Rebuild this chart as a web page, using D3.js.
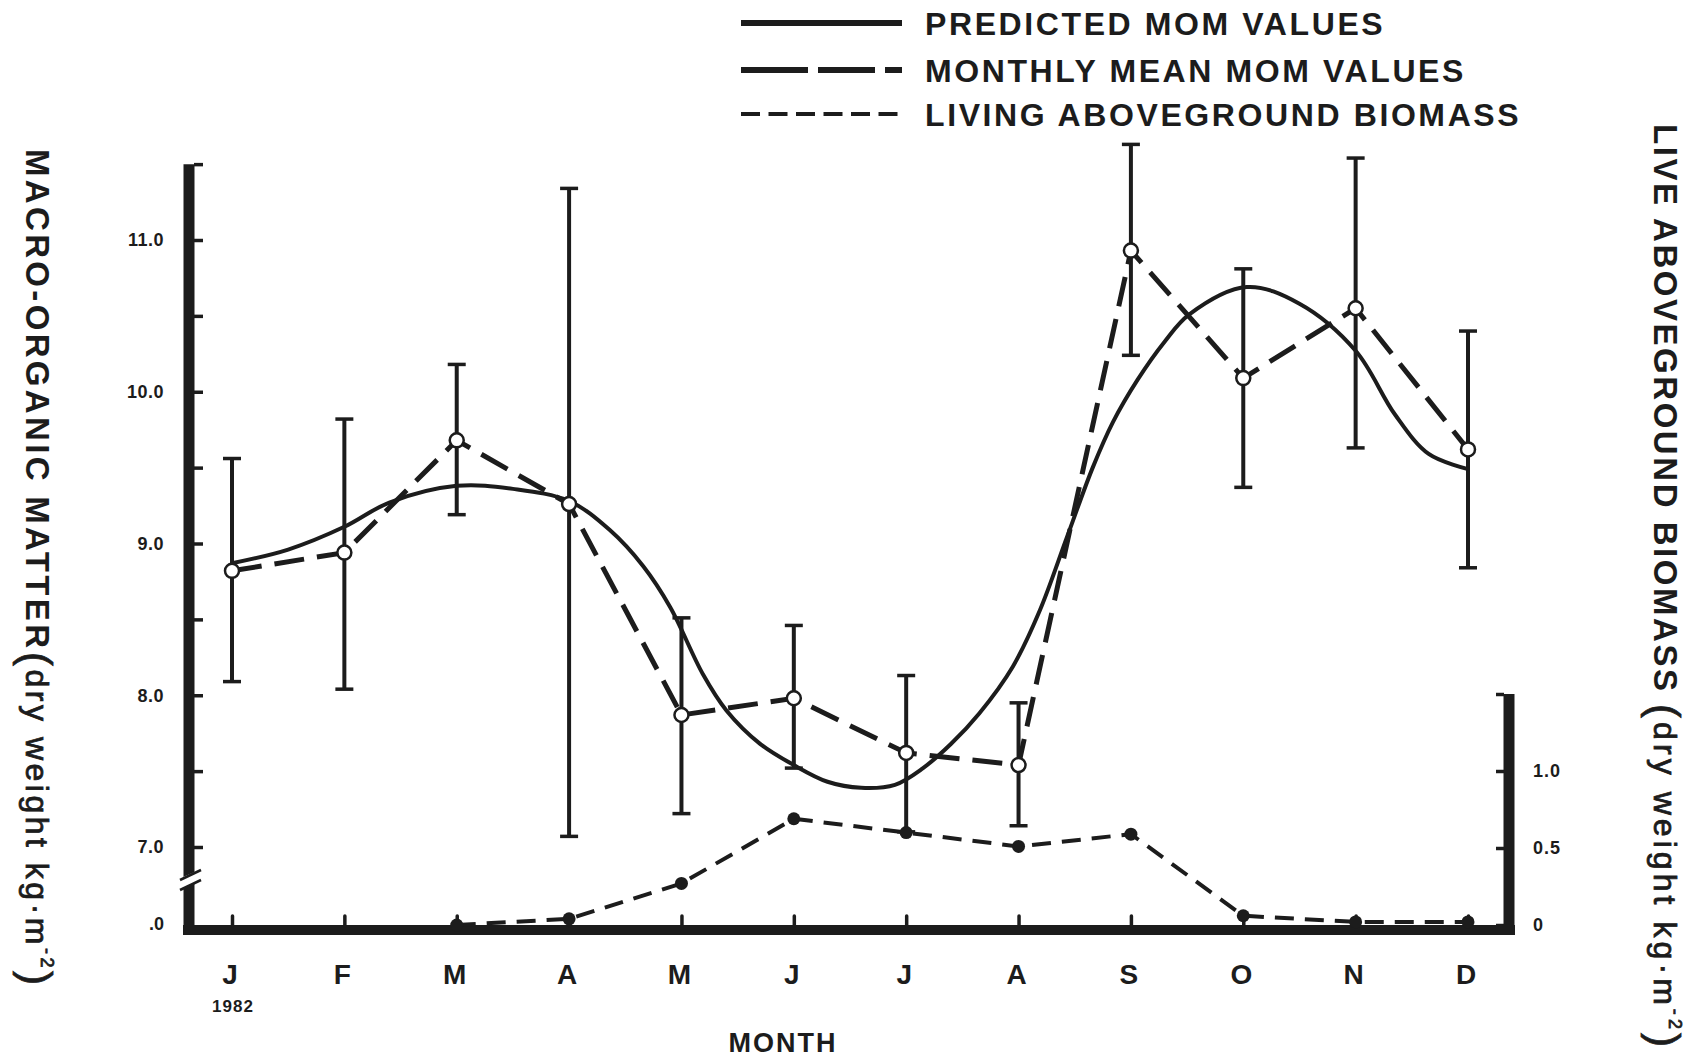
<!DOCTYPE html>
<html><head><meta charset="utf-8">
<script src="https://cdn.jsdelivr.net/npm/d3@7"></script>
<style>html,body{margin:0;padding:0;background:#fff;} svg{display:block;}</style>
</head><body>
<svg id="chart" width="1693" height="1057"></svg>
<script>
// ---------- data ----------
const months = ["J","F","M","A","M","J","J","A","S","O","N","D"];
const monthlyMean = [8.82, 8.94, 9.68, 9.26, 7.87, 7.98, 7.62, 7.54, 10.93, 10.09, 10.55, 9.62];
const errorHigh   = [9.56, 9.82, 10.18, 11.34, 8.51, 8.46, 8.13, 7.95, 11.63, 10.81, 11.54, 10.40];
const errorLow    = [8.09, 8.04, 9.19, 7.07, 7.22, 7.52, 7.10, 7.14, 10.24, 9.37, 9.63, 8.84];
const predictedMonth = [0, 0.5, 1, 1.4, 2, 2.5, 3, 3.36, 3.66, 3.9, 4.19, 4.4, 4.7, 5.0, 5.3, 5.6, 5.9, 6.15, 6.4, 6.65, 6.95, 7.19, 7.43, 7.66, 7.84, 8.06, 8.3, 8.52, 9.03, 9.5, 10, 10.35, 10.65, 11];
const predictedValue = [8.87, 8.96, 9.11, 9.27, 9.38, 9.36, 9.28, 9.09, 8.85, 8.58, 8.14, 7.90, 7.68, 7.54, 7.43, 7.39, 7.41, 7.52, 7.68, 7.88, 8.19, 8.56, 9.04, 9.50, 9.80, 10.08, 10.33, 10.51, 10.69, 10.58, 10.27, 9.85, 9.59, 9.49];
const biomass = [null, null, 0.0, 0.04, 0.27, 0.69, 0.60, 0.51, 0.59, 0.06, 0.02, 0.02];
const leftTickValues = [7, 7.5, 8, 8.5, 9, 9.5, 10, 10.5, 11, 11.5];
const leftTickLabels = ["7.0", "", "8.0", "", "9.0", "", "10.0", "", "11.0", ""];
const rightTickValues = [0, 0.5, 1.0, 1.5];
const rightTickLabels = ["0", "0.5", "1.0", ""];
const legendLabels = ["PREDICTED MOM VALUES", "MONTHLY MEAN MOM VALUES", "LIVING ABOVEGROUND BIOMASS"];

// ---------- setup ----------
const ink = "#1c1c1c";
const font = "'Liberation Sans', Arial, Helvetica, sans-serif";
const svg = d3.select("#chart").style("font-family", font);
svg.append("rect").attr("width",1693).attr("height",1057).attr("fill","#fff");

const x  = d3.scaleLinear().domain([0, 11]).range([232, 1468]);
const yL = d3.scaleLinear().domain([7, 11]).range([847, 240]);
const yR = d3.scaleLinear().domain([0, 1]).range([925, 771]);

const axisY = 930, leftX = 189, rightX = 1509;

// ---------- axes ----------
svg.append("line").attr("x1",183).attr("x2",1515).attr("y1",axisY).attr("y2",axisY)
  .attr("stroke",ink).attr("stroke-width",10);
const gx = svg.append("g").attr("transform",`translate(0,${axisY-4})`)
  .call(d3.axisBottom(x).tickValues(d3.range(months.length)).tickSize(-10).tickFormat(""));
gx.select(".domain").remove();
gx.selectAll(".tick line").attr("stroke",ink).attr("stroke-width",3.5).attr("stroke-linecap","round");

svg.selectAll("text.mlab").data(months).join("text").attr("class","mlab")
  .attr("x",(d,i)=>x(i)-2).attr("y",984).attr("text-anchor","middle")
  .attr("font-size",28).attr("font-weight",700).attr("fill",ink).text(d=>d);
svg.append("text").attr("x",x(0)+1).attr("y",1012).attr("text-anchor","middle")
  .attr("font-size",17).attr("font-weight",700).attr("letter-spacing",1).attr("fill",ink).text("1982");
svg.append("text").attr("x",783).attr("y",1052).attr("text-anchor","middle")
  .attr("font-size",27).attr("font-weight",700).attr("letter-spacing",2).attr("fill",ink).text("MONTH");

// left axis
svg.append("line").attr("x1",leftX).attr("x2",leftX).attr("y1",yL(11.5)).attr("y2",935)
  .attr("stroke",ink).attr("stroke-width",11);
const gl = svg.append("g").attr("transform",`translate(${leftX+5},0)`)
  .call(d3.axisLeft(yL).tickValues(leftTickValues).tickSize(-9).tickPadding(30)
    .tickFormat((d,i)=>leftTickLabels[i]));
gl.select(".domain").remove();
gl.selectAll(".tick line").attr("stroke",ink).attr("stroke-width",3.5);
gl.selectAll(".tick text").attr("font-size",18).attr("font-weight",700).attr("fill",ink)
  .attr("font-family",font).attr("letter-spacing",0.5);
// axis break
svg.append("polygon").attr("points","176,880 204,868 204,879 176,891").attr("fill","#fff");
svg.append("line").attr("x1",180).attr("y1",880).attr("x2",201).attr("y2",870).attr("stroke",ink).attr("stroke-width",2.5);
svg.append("line").attr("x1",180).attr("y1",890).attr("x2",201).attr("y2",880).attr("stroke",ink).attr("stroke-width",2.5);
svg.append("text").attr("x",164).attr("y",930).attr("text-anchor","end")
  .attr("font-size",18).attr("font-weight",700).attr("fill",ink).text(".0");

// right axis
svg.append("line").attr("x1",rightX).attr("x2",rightX).attr("y1",yR(1.5)).attr("y2",935)
  .attr("stroke",ink).attr("stroke-width",11);
const gr = svg.append("g").attr("transform",`translate(${rightX-5},0)`)
  .call(d3.axisRight(yR).tickValues(rightTickValues).tickSize(-8).tickPadding(29)
    .tickFormat((d,i)=>rightTickLabels[i]));
gr.select(".domain").remove();
gr.selectAll(".tick line").attr("stroke",ink).attr("stroke-width",3.5);
gr.selectAll(".tick text").attr("font-size",18).attr("font-weight",700).attr("fill",ink)
  .attr("font-family",font).attr("letter-spacing",1);

// ---------- titles ----------
function sideTitle(cx, capsStart, capsLen, capsText, parStart, parLen) {
  svg.append("text").attr("transform",`translate(${cx},${capsStart}) rotate(90)`)
    .attr("dominant-baseline","central").attr("font-size",33).attr("font-weight",700).attr("fill",ink)
    .attr("textLength",capsLen).attr("lengthAdjust","spacing").text(capsText);
  const t = svg.append("text").attr("transform",`translate(${cx},${parStart}) rotate(90)`)
    .attr("dominant-baseline","central").attr("font-size",32).attr("fill",ink)
    .attr("stroke",ink).attr("stroke-width",0.8)
    .attr("textLength",parLen).attr("lengthAdjust","spacing");
  t.append("tspan").attr("font-size",42).text("(");
  t.append("tspan").text("dry  weight  kg\u00B7m");
  t.append("tspan").attr("font-size",18).attr("dy",-10).text("-2");
  t.append("tspan").attr("font-size",42).attr("dy",10).text(")");
}
sideTitle(37, 149, 499, "MACRO-ORGANIC MATTER", 652, 333);
sideTitle(1665, 124, 567, "LIVE ABOVEGROUND BIOMASS", 704, 343);

// ---------- legend ----------
const legendY = [23, 70, 114];
const legendDash = [null, "67,10,57,10,17", "19,8.5"];
const legendW = [6, 6, 4];
legendLabels.forEach((lab,i)=>{
  svg.append("line").attr("x1",741).attr("x2",902).attr("y1",legendY[i]).attr("y2",legendY[i])
    .attr("stroke",ink).attr("stroke-width",legendW[i]).attr("stroke-dasharray",legendDash[i]);
  svg.append("text").attr("x",925).attr("y",legendY[i]+11.5).attr("font-size",32).attr("font-weight",700)
    .attr("letter-spacing",2.6).attr("fill",ink).text(lab);
});

// ---------- marks ----------
const idx = d3.range(months.length);
const eb = svg.append("g").attr("stroke",ink);
eb.selectAll("line.v").data(idx).join("line").attr("class","v")
  .attr("x1",i=>x(i)).attr("x2",i=>x(i)).attr("y1",i=>yL(errorHigh[i])).attr("y2",i=>yL(errorLow[i]))
  .attr("stroke-width",4);
eb.selectAll("line.ct").data(idx).join("line").attr("class","ct")
  .attr("x1",i=>x(i)-9).attr("x2",i=>x(i)+9).attr("y1",i=>yL(errorHigh[i])).attr("y2",i=>yL(errorHigh[i]))
  .attr("stroke-width",3.5);
eb.selectAll("line.cb").data(idx).join("line").attr("class","cb")
  .attr("x1",i=>x(i)-9).attr("x2",i=>x(i)+9).attr("y1",i=>yL(errorLow[i])).attr("y2",i=>yL(errorLow[i]))
  .attr("stroke-width",3.5);

const predPts = predictedMonth.map((m,i)=>[m, predictedValue[i]]);
svg.append("path").datum(predPts)
  .attr("d", d3.line().x(d=>x(d[0])).y(d=>yL(d[1])).curve(d3.curveCatmullRom.alpha(0.5)))
  .attr("fill","none").attr("stroke",ink).attr("stroke-width",4);

svg.append("path").datum(idx)
  .attr("d", d3.line().x(i=>x(i)).y(i=>yL(monthlyMean[i])))
  .attr("fill","none").attr("stroke",ink).attr("stroke-width",5).attr("stroke-dasharray","30,13");

svg.append("path").datum(idx.filter(i=>biomass[i]!==null))
  .attr("d", d3.line().x(i=>x(i)).y(i=>yR(biomass[i])))
  .attr("fill","none").attr("stroke",ink).attr("stroke-width",4).attr("stroke-dasharray","19,11");
svg.selectAll("circle.bio").data(idx.filter(i=>biomass[i]!==null)).join("circle").attr("class","bio")
  .attr("cx",i=>x(i)).attr("cy",i=>yR(biomass[i])).attr("r",6.5).attr("fill",ink);

svg.selectAll("circle.mean").data(idx).join("circle").attr("class","mean")
  .attr("cx",i=>x(i)).attr("cy",i=>yL(monthlyMean[i])).attr("r",7)
  .attr("fill","#fff").attr("stroke",ink).attr("stroke-width",2.5);
</script>
</body></html>
